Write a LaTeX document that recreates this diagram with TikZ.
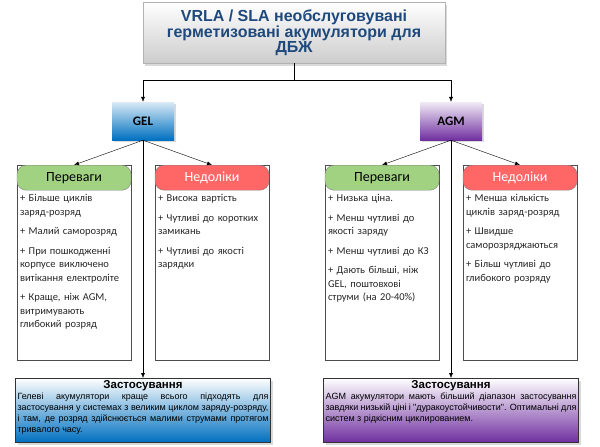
\documentclass[tikz,border=0pt]{standalone}
\usepackage{fontspec}
\setmainfont{Carlito}
\newfontfamily\arialfont{Liberation Sans}
\usetikzlibrary{positioning, arrows.meta, shadows}

\definecolor{titleblue}{RGB}{31,73,125}
\definecolor{gelblue}{RGB}{0,112,192}
\definecolor{agmviolet}{RGB}{112,48,160}
\definecolor{plusgreen}{RGB}{160,210,130}
\definecolor{minusred}{RGB}{255,102,102}

\tikzset{
  arr/.style={-{Latex[length=5pt,width=4pt]}, thin},
  col/.style={draw=black!70, minimum width=114pt, minimum height=195pt, anchor=north},
  hdr/.style={draw=black!50, rounded corners=9pt, minimum width=114pt, minimum height=25pt,
    anchor=north, font=\fontsize{14}{14}\selectfont},
  item/.style={anchor=north west, text width=110pt, align=left, inner sep=2pt,
    font=\fontsize{10.5}{13.5}\selectfont, text=black!85},
  app/.style={draw=black!80, minimum width=255pt, minimum height=64pt, anchor=north,
    drop shadow={opacity=0.3}},
}

\begin{document}
\begin{tikzpicture}[x=1pt, y=-1pt]
  \useasboundingbox (0,0) rectangle (600,447);

  % title
  \node[draw=black!30, top color=white, bottom color=black!20, drop shadow={opacity=0.3},
    minimum width=302pt, minimum height=61pt, anchor=north, align=center, text=titleblue,
    font=\arialfont\bfseries\fontsize{16}{14.5}\selectfont] (title) at (294,2)
    {VRLA / SLA необслуговувані\\герметизовані акумулятори для\\ДБЖ};

  % types
  \node[top color=gelblue!15, bottom color=gelblue, minimum width=62pt, minimum height=38pt,
    font=\bfseries\fontsize{13}{13}\selectfont, drop shadow={opacity=0.3}] (gel) at (143,121) {GEL};
  \node[top color=agmviolet!10, bottom color=agmviolet, minimum width=62pt, minimum height=38pt,
    font=\bfseries\fontsize{13}{13}\selectfont, drop shadow={opacity=0.3}] (agm) at (451,121) {AGM};

  \coordinate (split) at (294,80);
  \draw[arr] (title.south) -- (split) -| (gel.north);
  \draw[arr] (split) -| (agm.north);

  % columns
  \foreach \nm/\x/\clr/\txt/\tc in {gp/74/plusgreen/Переваги/black, gn/212/minusred/Недоліки/white,
      ap/382/plusgreen/Переваги/black, an/520/minusred/Недоліки/white}{
    \node[col] (\nm) at (\x,165) {};
    \node[hdr, fill=\clr, text=\tc] (\nm h) at (\x,165) {\txt};
  }

  \draw[arr] (gel.south) -- (gph.north);
  \draw[arr] (gel.south) -- (gnh.north);
  \draw[arr] (agm.south) -- (aph.north);
  \draw[arr] (agm.south) -- (anh.north);

  \node[item] at ([xshift=1pt,yshift=-2pt]gph.south west) {+ Більше циклів\\заряд-розряд\\[6pt]
    + Малий саморозряд\\[6pt]+ При пошкодженні\\корпусе виключено\\витікання електроліте\\[6pt]
    + Краще, ніж AGM,\\витримувають\\глибокий розряд};
  \node[item] at ([xshift=1pt,yshift=-2pt]gnh.south west) {+ Висока вартість\\[6pt]
    + Чутливі до коротких\\замикань\\[6pt]+ Чутливі до якості\\зарядки};
  \node[item] at ([xshift=1pt,yshift=-2pt]aph.south west) {+ Низька ціна.\\[6pt]
    + Менш чутливі до\\якості заряду\\[6pt]+ Менш чутливі до КЗ\\[6pt]
    + Дають більші, ніж\\GEL, поштовхові\\струми (на 20-40\%)};
  \node[item] at ([xshift=1pt,yshift=-2pt]anh.south west) {+ Менша кількість\\циклів заряд-розряд\\[6pt]
    + Швидше\\саморозряджаються\\[6pt]+ Більш чутливі до\\глибокого розряду};

  % applications
  \node[app, top color=white, bottom color=gelblue] (gapp) at (143,378) {};
  \node[app, top color=white, bottom color=agmviolet] (aapp) at (451,378) {};
  \draw[arr] (gel.south) -- (gapp.north);
  \draw[arr] (agm.south) -- (aapp.north);

  \node[anchor=north, font=\arialfont\bfseries\fontsize{11.5}{11}\selectfont, inner sep=1pt]
    (gappt) at ([yshift=-1pt]gapp.north) {Застосування};
  \node[anchor=north, text width=251pt, align=justify, inner sep=0pt,
    font=\arialfont\fontsize{9}{11}\selectfont] at ([yshift=-0.5pt]gappt.south)
    {Гелеві акумулятори краще всього підходять для застосування у системах з великим циклом заряду-розряду, і там, де розряд здійснюється малими струмами протягом тривалого часу.};
  \node[anchor=north, font=\arialfont\bfseries\fontsize{11.5}{11}\selectfont, inner sep=1pt]
    (aappt) at ([yshift=-1pt]aapp.north) {Застосування};
  \node[anchor=north, text width=251pt, align=justify, inner sep=0pt,
    font=\arialfont\fontsize{9}{11}\selectfont] at ([yshift=-0.5pt]aappt.south)
    {AGM акумулятори мають більший діапазон застосування завдяки низькій ціні і "дуракоустойчивости". Оптимальні для систем з рідкісним циклированием.};
\end{tikzpicture}
\end{document}
